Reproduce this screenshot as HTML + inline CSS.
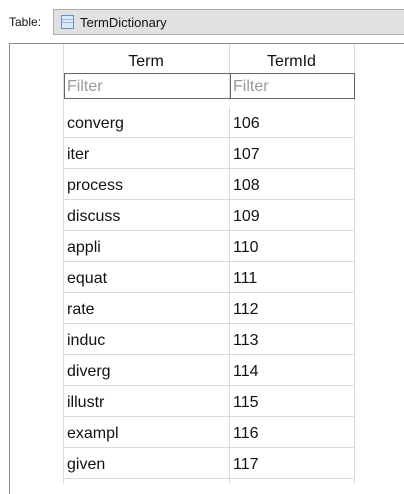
<!DOCTYPE html>
<html><head><style>
body{margin:0;width:404px;height:483px;background:#fff;position:relative;overflow:hidden;font-family:"Liberation Sans",sans-serif;}
.a{position:absolute}
.vl{position:absolute;width:1px;background:#dadada}
.hl{position:absolute;left:63px;width:291px;height:1px;background:#dadada}
.t{position:absolute;font-size:16px;color:#111}
</style></head><body>
<div class="a" style="left:9px;top:15px;font-size:12px;color:#111">Table:</div>
<div class="a" style="left:53px;top:9px;width:360px;height:24px;background:#e1e1e1;border:1px solid #adadad"></div>
<div class="a" style="left:61px;top:15px;width:11px;height:12px;background:#dbe8f7;border:1px solid #6a8fc6"></div>
<div class="a" style="left:62px;top:19px;width:11px;height:1px;background:#9db6dd"></div>
<div class="a" style="left:62px;top:22px;width:11px;height:1px;background:#9db6dd"></div>
<div class="a" style="left:80px;top:15px;font-size:13px;color:#111">TermDictionary</div>
<div class="a" style="left:9px;top:43px;width:400px;height:450px;border-left:1px solid #8a8a8a;border-top:1px solid #8a8a8a"></div>
<div class="vl" style="left:63px;top:44px;height:440px"></div>
<div class="vl" style="left:229px;top:44px;height:440px"></div>
<div class="vl" style="left:354px;top:44px;height:440px"></div>
<div class="a" style="left:64px;top:100px;width:290px;height:7px;background:#fff"></div>
<div class="t" style="left:63px;top:53px;width:166px;text-align:center">Term</div>
<div class="t" style="left:229px;top:53px;width:125px;text-align:center">TermId</div>
<div class="a" style="left:64px;top:73px;width:163px;height:24px;border:1px solid #666;color:#999;font-size:16px;line-height:25px;padding-left:2px;box-sizing:content-box">Filter</div>
<div class="a" style="left:230px;top:73px;height:24px;border:1px solid #666;color:#999;font-size:16px;line-height:25px;padding-left:2px;box-sizing:content-box;width:121px">Filter</div>
<div id="rows"></div>
<script>
var d=[["converg",106],["iter",107],["process",108],["discuss",109],["appli",110],["equat",111],["rate",112],["induc",113],["diverg",114],["illustr",115],["exampl",116],["given",117]];
var h="";
for(var i=0;i<d.length;i++){var y=107+31*i;
h+='<div class="t" style="left:67px;top:'+(y+8)+'px">'+d[i][0]+'</div><div class="t" style="left:233px;top:'+(y+8)+'px">'+d[i][1]+'</div><div class="hl" style="top:'+(y+30)+'px"></div>';}
document.getElementById("rows").innerHTML=h;
</script>
</body></html>
